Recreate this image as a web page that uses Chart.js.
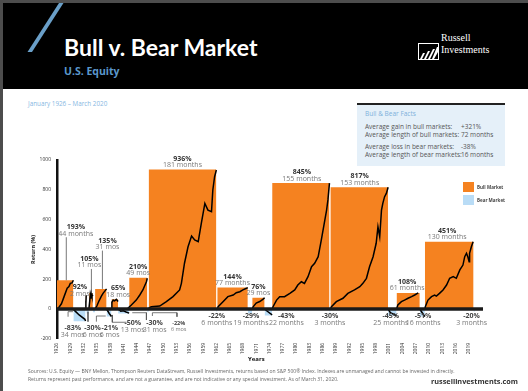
<!DOCTYPE html>
<html>
<head>
<meta charset="utf-8">
<script src="https://cdn.jsdelivr.net/npm/chart.js@4"></script>
<style>
  html, body { margin: 0; padding: 0; }
  body { width: 528px; height: 391px; position: relative; overflow: hidden; background: #fff; font-family: 'Open Sans', sans-serif; }
  .abs { position: absolute; white-space: nowrap; line-height: 1; }
  #frame { position: absolute; left: 0; top: 0; width: 528px; height: 391px; border-left: 3px solid #4d4d4d; border-top: 3px solid #4d4d4d; box-sizing: border-box; }
  #head { position: absolute; left: 3px; top: 3px; width: 525px; height: 86px; background: #000; }
  #title { left: 64px; top: 32.5px; font: 700 23px Lato, sans-serif; color: #fff; }
  #sub { left: 64px; top: 66px; font-weight: 700; font-size: 10.5px; color: #5b98cc; }
  #period { left: 28px; top: 101px; font-size: 6.3px; color: #86b7df; }
  #facts { position: absolute; left: 357px; top: 103px; width: 148px; height: 63px; background: #e5f0f9; border-top: 2.5px solid #222; box-sizing: border-box; }
  .fact { font-size: 6.5px; color: #555; }
  #chart { position: absolute; left: 0; top: 0; }
  .key { position: absolute; width: 11px; height: 10px; }
  .keytxt { font-size: 4.5px; font-weight: 700; color: #444; }
  .src { font-size: 5px; color: #666; }
  .logo { font-family: 'Liberation Serif', 'DejaVu Serif', serif; font-size: 10px; color: #fff; }
</style>
</head>
<body>
<div id="frame"></div>
<div id="head"></div>
<svg class="abs" style="left:0;top:0" width="528" height="92">
  <polygon points="59,3 63.5,3 32,52 27.5,52" fill="#6a9fc8"/>
  <rect x="418.5" y="43.5" width="20" height="16" fill="none" stroke="#fff" stroke-width="1"/>
  <polygon points="420,59 423,53 425,53 422,59" fill="#fff"/>
  <polygon points="424,59 428,51 430,51 426,59" fill="#fff"/>
  <polygon points="428,59 433,49 435,49 430,59" fill="#fff"/>
  <polygon points="432,59 437,47 438,47 438,52 434,59" fill="#fff"/>
</svg>
<div class="abs" id="title">Bull v. Bear Market</div>
<div class="abs" id="sub">U.S. Equity</div>
<div class="abs logo" style="left:441px;top:33px">Russell</div>
<div class="abs logo" style="left:441px;top:45px">Investments</div>
<div class="abs" id="period">January 1926 – March 2020</div>

<div id="facts"></div>
<div class="abs" style="left:365px;top:110.5px;font-size:6.5px;color:#7eb0db">Bull &amp; Bear Facts</div>
<div class="abs fact" style="left:365px;top:124px">Average gain in bull markets:</div>
<div class="abs fact" style="left:461px;top:124px">+321%</div>
<div class="abs fact" style="left:365px;top:131.5px">Average length of bull markets:</div>
<div class="abs fact" style="left:461px;top:131.5px">72 months</div>
<div class="abs fact" style="left:365px;top:144px">Average loss in bear markets:</div>
<div class="abs fact" style="left:461px;top:144px">-38%</div>
<div class="abs fact" style="left:365px;top:152px">Average length of bear markets:</div>
<div class="abs fact" style="left:461px;top:152px">16 months</div>

<canvas id="chart" width="528" height="391"></canvas>

<div class="key" style="left:463px;top:182px;background:#f58220"></div>
<div class="abs keytxt" style="left:477px;top:185px">Bull Market</div>
<div class="key" style="left:463px;top:195px;background:#b9dcf6"></div>
<div class="abs keytxt" style="left:477px;top:198px">Bear Market</div>

<div class="abs" style="left:248px;top:356px;font-size:6px;font-weight:700;color:#111">Years</div>
<div class="abs src" style="left:28px;top:369px">Sources: U.S. Equity — BNY Mellon, Thompson Reuters DataStream, Russell Investments, returns based on S&amp;P 500® Index. Indexes are unmanaged and cannot be invested in directly.</div>
<div class="abs src" style="left:28px;top:377px">Returns represent past performance, and are not a guarantee, and are not indicative or any special investment. As of March 31, 2020.</div>
<div class="abs" style="left:431px;top:378px;font-size:7.3px;font-weight:700;color:#333">russellinvestments.com</div>

<script>
const tickYears = [1926, 1929, 1932, 1935, 1938, 1941, 1944, 1947, 1950, 1953, 1956, 1959, 1962, 1965, 1968, 1971,
  1974, 1977, 1980, 1983, 1986, 1989, 1992, 1995, 1998, 2001, 2004, 2007, 2010, 2013, 2016, 2019];
const returnTicks = [-200, 0, 200, 400, 600, 800, 1000];

// bull markets
const bullStart = [1926.0, 1932.45, 1933.2, 1934.6, 1938.3, 1942.3, 1946.7, 1962.2, 1970.1, 1974.6, 1987.75, 2002.7, 2009.1];
const bullEnd = [1929.7, 1932.62, 1934.1, 1937.2, 1939.8, 1946.4, 1962.0, 1969.1, 1972.9, 1987.55, 2000.8, 2007.95, 2020.1];
const bullGain = [193, 92, 105, 135, 65, 210, 936, 144, 76, 845, 817, 108, 451];
const bullSpan = ['44 months', '2 mos', '11 mos', '31 mos', '18 mos', '49 mos', '181 months', '77 months', '29 mos',
  '155 months', '153 months', '61 months', '130 months'];

// bear markets
const bearStart = [1929.7, 1932.62, 1934.1, 1937.2, 1939.8, 1946.4, 1962.0, 1969.1, 1972.9, 1987.55, 2000.8, 2007.95, 2020.1];
const bearEnd = [1932.45, 1933.2, 1934.6, 1938.3, 1942.3, 1946.7, 1962.2, 1970.1, 1974.6, 1987.75, 2002.7, 2009.1, 2020.35];
const bearLoss = [-83, -30, -21, -50, -30, -22, -22, -29, -43, -30, -45, -51, -20];
const bearSpan = ['34 mos', '6 mos', '6 mos', '13 mos', '31 mos', '6 mos', '6 months', '19 months', '22 months',
  '3 months', '25 months', '16 months', '3 months'];

// cumulative return paths [year, %]
const p1926 = [[1926.0, 0], [1926.3, 5], [1927.0, 35], [1927.6, 83], [1928.3, 139], [1928.7, 150], [1929.0, 172], [1929.4, 175], [1929.7, 193]];
const p1932 = [[1932.45, 0], [1932.5, 55], [1932.55, 35], [1932.6, 92]];
const p1933 = [[1933.2, 0], [1933.4, 55], [1933.5, 90], [1933.6, 70], [1933.75, 105], [1933.9, 85], [1934.1, 95]];
const p1935 = [[1934.6, 0], [1935.0, 20], [1935.5, 55], [1936.0, 85], [1936.4, 105], [1936.8, 120], [1937.2, 135]];
const p1938 = [[1938.2, 0], [1938.4, 45], [1938.7, 60], [1939.0, 55], [1939.4, 65], [1939.8, 50]];
const p1942 = [[1942.0, 5], [1942.8, 27], [1943.9, 60], [1944.7, 94], [1945.4, 128], [1946.2, 183], [1946.4, 206]];
const p1949 = [[1946.7, 5], [1947.3, 15], [1949.2, 20], [1950.7, 49], [1952.2, 83], [1953.7, 128], [1954.1, 172], [1954.8, 307],
  [1955.6, 418], [1956.4, 490], [1957.1, 463], [1957.9, 452], [1958.6, 575], [1959.4, 709], [1960.1, 664], [1960.9, 653],
  [1961.2, 799], [1961.6, 888], [1962.0, 933]];
const p1962 = [[1962.2, 0], [1962.4, 15], [1963.5, 49], [1964.6, 83], [1965.8, 94], [1966.5, 109], [1967.3, 116], [1968.0, 128], [1968.8, 139], [1969.1, 144]];
const p1970 = [[1970.1, 0], [1970.3, 15], [1971.0, 40], [1971.8, 50], [1972.5, 65], [1972.9, 76]];
const p1974 = [[1974.6, 0], [1974.8, 15], [1975.6, 60], [1976.3, 83], [1977.4, 83], [1978.6, 105], [1979.7, 128], [1980.4, 161],
  [1981.2, 183], [1981.9, 172], [1982.7, 217], [1983.5, 284], [1984.2, 307], [1985.0, 351], [1985.7, 463], [1986.5, 597],
  [1986.9, 664], [1987.2, 732], [1987.55, 845]];
const p1987 = [[1987.75, 0], [1988.0, 15], [1989.1, 49], [1990.6, 72], [1991.7, 105], [1993.2, 128], [1994.4, 150], [1995.1, 172],
  [1995.9, 206], [1996.6, 284], [1997.4, 351], [1998.1, 441], [1998.5, 552], [1998.9, 485], [1999.3, 664], [1999.6, 709],
  [2000.0, 754], [2000.4, 776], [2000.8, 817]];
const p2002 = [[2002.7, 0], [2003.0, 27], [2003.8, 49], [2004.5, 60], [2005.3, 72], [2006.1, 83], [2006.8, 94], [2007.6, 108]];
const p2009 = [[2009.1, 0], [2009.2, 15], [2009.8, 60], [2010.6, 83], [2011.3, 94], [2011.7, 87], [2012.4, 105], [2013.2, 128],
  [2014.0, 161], [2014.7, 206], [2015.5, 217], [2016.2, 206], [2017.0, 262], [2017.7, 295], [2018.1, 351], [2018.5, 374],
  [2018.8, 351], [2019.1, 317], [2019.2, 374], [2019.6, 418], [2020.0, 451]];
const d1929 = [[1929.7, 0], [1930.0, -11], [1931.0, -40], [1932.3, -69], [1932.45, -80]];
const d1937 = [[1937.2, 0], [1937.8, -30], [1938.3, -50]];
const d1940 = [[1939.8, 0], [1940.4, -15], [1941.0, -12], [1941.6, -20], [1942.3, -28]];
const d1973 = [[1972.9, 0], [1973.5, -15], [1974.6, -40]];
const d2000 = [[2000.8, 0], [2001.3, -25], [2002.7, -45]];
const d2008 = [[2007.95, 0], [2008.6, -30], [2009.1, -51]];
const paths = [p1926, p1932, p1933, p1935, p1938, p1942, p1949, p1962, p1970, p1974, p1987, p2002, p2009,
  d1929, d1937, d1940, d1973, d2000, d2008];

// leader lines for the early bear labels [year, %]
const leaders = [
  [[1928.5, -52], [1928.5, -18], [1929.6, -18]],
  [[1933.0, -18], [1933.0, -85]],
  [[1934.9, -85], [1934.9, -47], [1937.0, -47]],
  [[1938.5, -40], [1938.5, -89], [1941.7, -89]],
  [[1943.0, -25], [1946.2, -25], [1946.2, -74]],
  [[1947.55, -47], [1947.55, -25], [1953.1, -25], [1953.1, -52]]
];

// label nudges in px: [dx, dy]
const bullTag = [[10.6, -42], [-6, 3], [-1.5, -23.4], [6.7, -37.3], [3.5, 0], [0, 0], [0, 0], [0, 0], [0, 0], [1, 0], [0.5, 0], [-1, 0], [-2, 0]];
const bullLink = { 0: 1928.1, 2: 1933.77, 3: 1936.26 };
const bearTag = [[-6.7, 12], [5, 12], [15.7, 12], [23.7, 7], [31, 7], [30.7, 7], [0, 0], [1, 0], [18, 0], [0, 0], [-1.5, 0], [0.8, 0], [-2.5, 0]];

const ORANGE = '#f58220';
const BLUE = '#b9dcf6';
const pts = arr => arr.map(p => ({ x: p[0], y: p[1] }));

const datasets = [];
datasets.push({ data: [{ x: 1926, y: 0 }, { x: 2022.23, y: 0 }], borderColor: '#1a1a1a', backgroundColor: '#1a1a1a', borderWidth: 3.5, pointRadius: 0, fill: false, order: 0 });
paths.forEach(p => datasets.push({ data: pts(p), borderColor: '#000', backgroundColor: '#000', borderWidth: 1.5, pointRadius: 0, fill: false, order: 1 }));
leaders.forEach(p => datasets.push({ data: pts(p), borderColor: '#555', backgroundColor: '#555', borderWidth: 0.8, pointRadius: 0, fill: false, order: 1 }));
bullGain.forEach((g, i) => datasets.push({
  data: pts([[bullStart[i], 0], [bullStart[i], g], [bullEnd[i], g], [bullEnd[i], 0]]),
  backgroundColor: ORANGE, borderColor: 'rgba(0,0,0,0)', borderWidth: 0, pointRadius: 0, fill: 'origin', order: 3
}));
bearLoss.forEach((l, i) => datasets.push({
  data: pts([[bearStart[i], 0], [bearStart[i], l], [bearEnd[i], l], [bearEnd[i], 0]]),
  backgroundColor: BLUE, borderColor: 'rgba(0,0,0,0)', borderWidth: 0, pointRadius: 0, fill: 'origin', order: 3
}));

const marketLabels = {
  id: 'marketLabels',
  afterDatasetsDraw(chart) {
    const { ctx, scales: { x, y } } = chart;
    const y0 = y.getPixelForValue(0);
    ctx.save();
    ctx.textAlign = 'center';
    ctx.textBaseline = 'middle';
    bullGain.forEach((g, i) => {
      const cx = x.getPixelForValue((bullStart[i] + bullEnd[i]) / 2) + bullTag[i][0];
      const top = y.getPixelForValue(g);
      const ty = top - 11 + bullTag[i][1];
      if (bullLink[i] !== undefined) {
        const lx = x.getPixelForValue(bullLink[i]);
        ctx.strokeStyle = '#555';
        ctx.lineWidth = 0.8;
        ctx.beginPath();
        ctx.moveTo(lx, ty + 10);
        ctx.lineTo(lx, top);
        ctx.stroke();
      }
      ctx.font = 'bold 7px "Open Sans"';
      ctx.fillStyle = '#333';
      ctx.fillText(g + '%', cx, ty);
      ctx.font = '7px "Open Sans"';
      ctx.fillStyle = '#7a7a7a';
      ctx.fillText(bullSpan[i], cx, ty + 6.5);
    });
    bearLoss.forEach((l, i) => {
      const cx = x.getPixelForValue((bearStart[i] + bearEnd[i]) / 2) + bearTag[i][0];
      const ty = y0 + 7 + bearTag[i][1];
      const size = i === 5 ? 5.5 : 7;
      ctx.font = 'bold ' + size + 'px "Open Sans"';
      ctx.fillStyle = '#444';
      ctx.fillText(l + '%', cx, ty);
      ctx.font = size + 'px "Open Sans"';
      ctx.fillStyle = '#7a7a7a';
      ctx.fillText(bearSpan[i], cx, ty + (i === 5 ? 6 : 7));
    });
    ctx.restore();
  }
};

new Chart(document.getElementById('chart'), {
  type: 'line',
  data: { datasets },
  plugins: [marketLabels],
  options: {
    responsive: false,
    animation: false,
    devicePixelRatio: 1,
    events: [],
    layout: { padding: { left: 0, top: 160, right: 45, bottom: 22.2 } },
    plugins: { legend: { display: false }, tooltip: { enabled: false }, colors: { enabled: false } },
    elements: { line: { tension: 0 } },
    scales: {
      x: {
        type: 'linear',
        min: 1926,
        max: 2022.23,
        afterBuildTicks: s => { s.ticks = tickYears.map(v => ({ value: v })); },
        afterFit: s => { s.height = 30; },
        grid: { display: false, drawTicks: false },
        border: { display: false },
        ticks: { autoSkip: false, maxRotation: 90, minRotation: 90, padding: 4, color: '#333', font: { size: 5, family: 'Open Sans' }, callback: v => String(v) }
      },
      y: {
        min: -200,
        max: 1000,
        afterBuildTicks: s => { s.ticks = returnTicks.map(v => ({ value: v })); },
        afterFit: s => { s.width = 57; },
        grid: { display: false, drawTicks: false },
        border: { display: true, color: '#111', width: 2.5 },
        ticks: { padding: 6, color: '#333', font: { size: 5, family: 'Open Sans' }, callback: v => String(v) },
        title: { display: true, text: 'Return (%)', color: '#222', font: { size: 5.5, weight: 'bold', family: 'Open Sans' }, padding: { top: 30 } }
      }
    }
  }
});
</script>
</body>
</html>
